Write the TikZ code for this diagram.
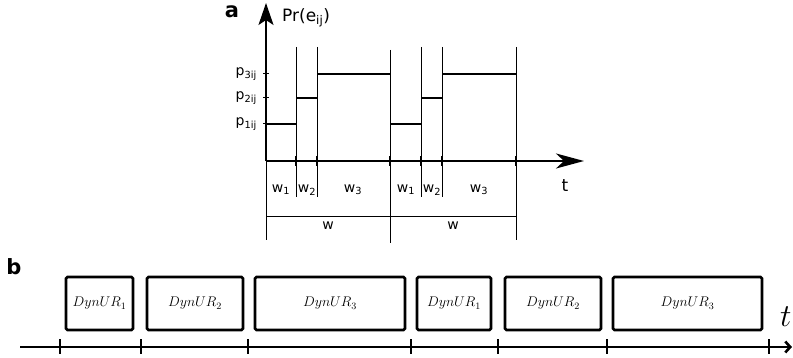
\RequirePackage{fix-cm}
\documentclass[tikz,border=0pt]{standalone}
\usepackage{fontspec}
\setmainfont{DejaVu Sans}
\usetikzlibrary{arrows.meta}
\begin{document}
\begin{tikzpicture}[x=1pt,y=-1pt,
  axisA/.style={line width=2pt},
  vline/.style={line width=0.8pt},
  level/.style={line width=2.4pt},
  tickA/.style={line width=2pt},
  lblA/.style={font=\fontsize{14}{14}\selectfont, inner sep=0pt},
  urbox/.style={draw, line width=2.8pt, rounded corners=1.5pt, inner sep=0pt, font=\fontsize{14}{14}\selectfont},
  axisB/.style={line width=2.6pt},
  tickB/.style={line width=1.4pt},
  panel/.style={font=\fontsize{21}{21}\selectfont\bfseries, inner sep=0pt}
]
\useasboundingbox (0,0) rectangle (793,358);
% ---------- panel a ----------
\node[panel] (la) at (232,12) {a};
\coordinate (O) at (266,161);
\coordinate (Ytop) at (266,3);
\coordinate (Xend) at (584,161);
\coordinate (Ybot) at (266,240);
\draw[axisA,-{Stealth[length=22pt,width=15pt,inset=5pt]}] (O) -- (Ytop);
\draw[axisA,-{Stealth[length=28pt,width=15pt,inset=8pt]}] (O) -- (Xend);
\draw[vline] (O) -- (Ybot);
\node[font=\fontsize{17}{17}\selectfont, anchor=west, inner sep=0pt] (pr) at (282,18) {Pr(e\textsubscript{ij})};
\node[font=\fontsize{17}{17}\selectfont, inner sep=0pt] (tA) at (565,186) {t};
% level ticks and labels
\foreach \n/\y in {1/124,2/98,3/74}{
  \coordinate (yl\n) at (263,\y);
  \coordinate (yr\n) at (269,\y);
  \draw[line width=1pt] (yl\n) -- (yr\n);
  \node[lblA, anchor=east] (p\n) at (257,\y) {p\textsubscript{\n ij}};
}
% vertical lines
\foreach \i/\x/\top/\bot in {1/296/47/197, 2/317/47/197, 3/390/50/243, 4/421/47/197, 5/442/47/197, 6/516/47/240}{
  \coordinate (vt\i) at (\x,\top);
  \coordinate (vb\i) at (\x,\bot);
  \draw[vline] (vt\i) -- (vb\i);
  \coordinate (tk\i a) at (\x,156);
  \coordinate (tk\i b) at (\x,166);
  \draw[tickA] (tk\i a) -- (tk\i b);
}
% levels
\coordinate (s0) at (266,124);
\draw[level] (s0) -- (296,124);
\draw[level] (296,98) -- (317,98);
\draw[level] (317,74) -- (390,74);
\draw[level] (390,124) -- (421,124);
\draw[level] (421,98) -- (442,98);
\draw[level] (442,74) -- (516,74);
% w labels
\node[lblA] (w1a) at (281,190) {w\textsubscript{1}};
\node[lblA] (w2a) at (307,190) {w\textsubscript{2}};
\node[lblA] (w3a) at (353,190) {w\textsubscript{3}};
\node[lblA] (w1b) at (406,190) {w\textsubscript{1}};
\node[lblA] (w2b) at (432,190) {w\textsubscript{2}};
\node[lblA] (w3b) at (479,190) {w\textsubscript{3}};
\coordinate (W0) at (266,217);
\coordinate (W2) at (516,217);
\draw[line width=1pt] (W0) -- (W2);
\node[lblA] (Wa) at (328,226) {w};
\node[lblA] (Wb) at (453,226) {w};
% ---------- panel b ----------
\node[panel] (lb) at (14,267) {b};
\coordinate (B0) at (20,347);
\coordinate (B1) at (792,347);
\draw[axisB,-{Straight Barb[length=5pt,width=11pt]}] (B0) -- (B1);
\foreach \i/\x in {1/60,2/141,3/248,4/411,5/498,6/607,7/769}{
  \coordinate (bt\i a) at (\x,339);
  \coordinate (bt\i b) at (\x,354);
  \draw[tickB] (bt\i a) -- (bt\i b);
}
\foreach \i/\xa/\xb/\k in {1/66/133/1, 2/147/243/2, 3/255/405/3, 4/417/491/1, 5/505/601/2, 6/613/762/3}{
  \node[urbox, minimum width={\xb-\xa}, minimum height=53pt] (u\i) at ({(\xa+\xb)/2},303.5) {$DynUR_{\k}$};
}
\node[anchor=west, inner sep=0pt, font=\fontsize{32}{32}\selectfont] (tB) at (780,317) {$t$};
\end{tikzpicture}
\end{document}
